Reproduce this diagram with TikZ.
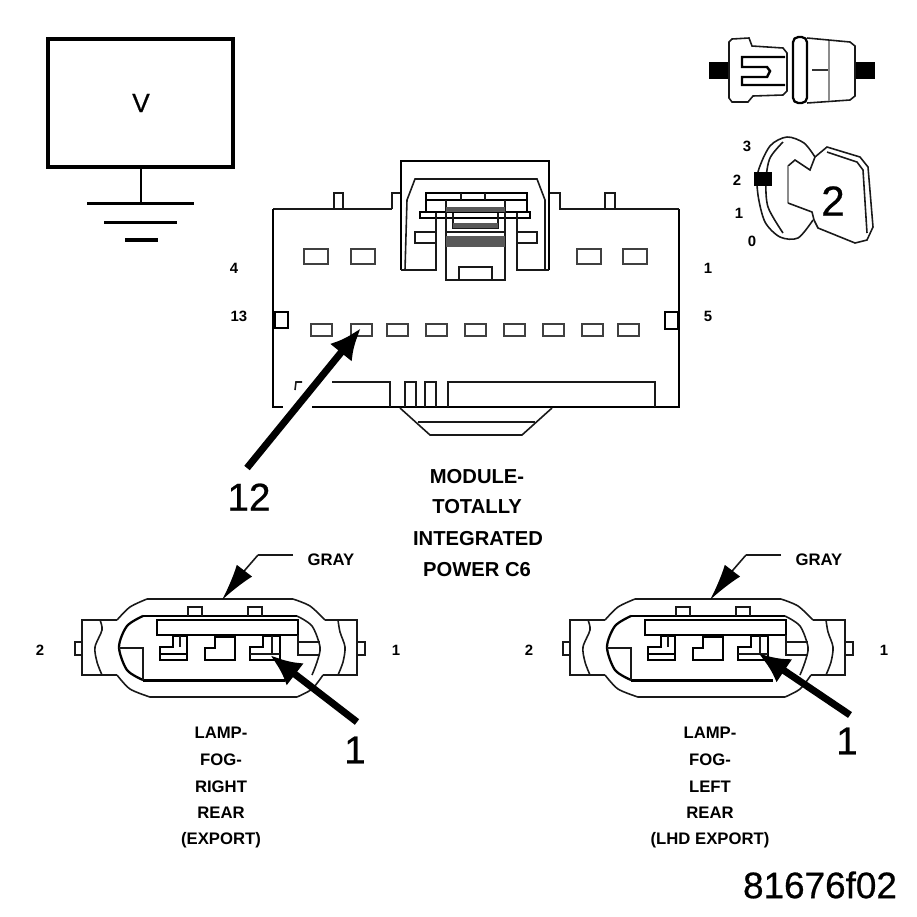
\documentclass[tikz,border=0pt]{standalone}
\usepackage{fontspec}
\setmainfont{Liberation Sans}
\newfontfamily\medfont[FakeBold=0.6]{Liberation Sans}
\usetikzlibrary{arrows.meta}

\tikzset{
    x=0.02cm, y=-0.02cm,
    line/.style={line width=0.9pt, black!90},
    faint/.style={line width=1pt, black!45},
    window/.style={line width=1.2pt, black!75},
    bigarrow/.style={line width=4pt, black, -{Latex[length=18pt,width=16pt]}},
    pin/.style={font=\bfseries\fontsize{8.5}{10}\selectfont, inner sep=0pt},
    caption/.style={font=\bfseries\fontsize{9.5}{11}\selectfont, inner sep=0pt},
    title/.style={font=\bfseries\fontsize{11.5}{13}\selectfont, inner sep=0pt},
    callout/.style={font=\medfont\fontsize{22}{24}\selectfont, inner sep=0pt},
}

\begin{document}
\begin{tikzpicture}
    \useasboundingbox[fill=white] (0,0) rectangle (917,917);

    % voltmeter and ground
    \draw[line width=2pt] (48,39) rectangle (233,167);
    \node[inner sep=0pt, font=\medfont\fontsize{15}{17}\selectfont] (meterV) at (141,103) {V};
    \draw[line width=1.5pt] (141,167) -- (141,203);
    \draw[line width=1.7pt] (87,203) -- (194,203);
    \draw[line width=1.7pt] (104,222) -- (177,222);
    \draw[line width=2pt] (125,240) -- (158,240);

    % fuse
    \fill (709,62) rectangle (729,79);
    \fill (856,62) rectangle (875,79);
    \draw[line] (729,42) -- (732,39) -- (749,38) -- (752,46) -- (783,48) -- (787,53) -- (787,91) -- (783,95) -- (753,96) -- (748,102) -- (732,102) -- (729,98) -- cycle;
    \draw[line width=1.4pt] (785,57) -- (742,57) -- (742,67) -- (767,67) -- (770,71) -- (767,77) -- (742,77) -- (742,85) -- (785,85);
    \draw[line width=1.3pt, rounded corners=3pt] (793,37) rectangle (807,103);
    \draw[line] (807,38) -- (850,42) -- (855,46) -- (855,96) -- (850,100) -- (807,103);
    \draw[faint] (829,41) -- (829,101);
    \draw[line width=1.3pt, black!80] (812,70) -- (828,70);

    % ignition key
    \node[pin] (key3) at (747,146) {3};
    \node[pin] (key2) at (737,180) {2};
    \node[pin] (key1) at (739,213) {1};
    \node[pin] (key0) at (752,241) {0};
    \draw[line] plot[smooth] coordinates {(815,157) (804,143) (787,137) (770,146) (758,172) (758,195) (765,222) (780,237) (798,238) (813,220)};
    \draw[line] plot[smooth] coordinates {(783,142) (770,158) (766,180) (768,207) (783,233)};
    \draw[line] (815,157) -- (810,170) -- (795,160) -- (788,166);
    \draw[faint] (788,166) -- (788,203);
    \draw[line] (788,203) -- (812,212) -- (814,220);
    \draw[line] (815,157) -- (827,147) -- (860,157) -- (868,167) -- (873,227) -- (867,240) -- (855,243) -- (818,228) -- (814,220);
    \draw[line] (827,152) -- (857,162) -- (863,170) -- (867,233);
    \fill (754,172) rectangle (772,186);
    \node[inner sep=0pt, font=\medfont\fontsize{24}{26}\selectfont] (key) at (833,201) {2};

    % module connector
    \draw[line] (392,209) -- (273,209);
    \draw[line width=1.2pt] (273,209) -- (273,407) -- (283,407);
    \draw[line width=1.2pt] (312,407) -- (679,407) -- (679,209);
    \draw[line] (679,209) -- (560,209) -- (560,193) -- (549,193);
    \draw[line] (392,209) -- (392,193) -- (401,193);
    \draw[line width=1.2pt] (401,270) -- (401,161) -- (549,161) -- (549,270);
    \draw[line] (334,209) -- (334,193) -- (343,193) -- (343,209);
    \draw[line] (605,209) -- (605,193) -- (615,193) -- (615,209);
    \draw[line] (405,270) -- (407,200) -- (415,179) -- (537,179) -- (545,200) -- (545,270);

    \draw[line width=1.1pt] (426,213) -- (426,193) -- (527,193) -- (527,213);
    \draw[line width=1.1pt] (426,200) -- (527,200);
    \draw[line] (461,193) -- (461,200);
    \draw[line] (485,193) -- (485,200);
    \draw[line width=1.1pt] (420,212) rectangle (530,218);
    \draw[line] (446,200) -- (446,280) -- (505,280) -- (505,200);
    \draw[line] (459,280) -- (459,267) -- (492,267) -- (492,280);
    \fill[black!65] (446,207) rectangle (505,212);
    \draw[line] (453,213) -- (453,228) -- (498,228) -- (498,213);
    \fill[black!65] (453,223) rectangle (498,228);
    \draw[line] (446,232) -- (505,232);
    \fill[black!65] (446,236) rectangle (505,247);
    \draw[line] (436,213) -- (436,270) -- (401,270);
    \draw[line] (517,213) -- (517,270) -- (549,270);
    \draw[line] (415,232) rectangle (436,243);
    \draw[line] (517,232) -- (537,232) -- (537,243) -- (517,243);

    \foreach \x in {304,351,577,623}
        \draw[window] (\x,249) rectangle +(24,15);
    \foreach \x in {321,361,397,436,475,514,553,592,628}
        \draw[window] (\x-10,324) rectangle +(21,12);

    \draw[line width=1.2pt] (275,312) rectangle (288,328);
    \draw[line width=1.2pt] (665,312) rectangle (678,329);

    \draw[line] (332,382) -- (390,382) -- (390,407);
    \draw[line] (405,407) -- (405,382) -- (416,382) -- (416,407);
    \draw[line] (425,407) -- (425,382) -- (436,382) -- (436,407);
    \draw[line] (448,407) -- (448,382) -- (655,382) -- (655,407);
    \draw[line] (295,390) -- (296,382) -- (302,382);

    \draw[line] (400,408) -- (430,435) -- (522,435) -- (552,408);
    \draw[line] (418,422) -- (535,422);

    \node[pin] (pin4) at (234,268) {4};
    \node[pin] (pin1) at (708,268) {1};
    \node[pin] (pin13) at (239,316) {13};
    \node[pin] (pin5) at (708,316) {5};

    \node[title] (mod1) at (477,477) {MODULE-};
    \node[title] (mod2) at (477,507) {TOTALLY};
    \node[title] (mod3) at (478,539) {INTEGRATED};
    \node[title] (mod4) at (477,570) {POWER C6};

    \coordinate (tail12) at (247,468);
    \coordinate (cavity12) at (361,328);
    \draw[bigarrow] (tail12) -- (cavity12);
    \node[callout] (num12) at (249,497) {12};

    % the two lamp connectors
    \foreach \dx/\side in {0/R,488/L} {
        \begin{scope}[shift={(\dx,0)}]
            \draw[line] plot[smooth] coordinates {(117,620) (130,607) (147,599)};
            \draw[line] (147,599) -- (293,599);
            \draw[line] plot[smooth] coordinates {(293,599) (310,606) (325,620)};
            \draw[line] plot[smooth] coordinates {(117,675) (130,689) (150,697)};
            \draw[line] (150,697) -- (297,697);
            \draw[line] plot[smooth] coordinates {(297,697) (312,689) (323,675)};
            \draw[line] (117,620) -- (82,620) -- (82,675) -- (117,675);
            \draw[line] (325,620) -- (357,620) -- (357,675) -- (323,675);
            \draw[line] (82,642) -- (75,642) -- (75,655) -- (82,655);
            \draw[line] (357,642) -- (365,642) -- (365,655) -- (357,655);
            \draw[line] plot[smooth] coordinates {(100,620) (102,630) (95,647) (97,662) (102,675)};
            \draw[line] plot[smooth] coordinates {(338,620) (340,632) (345,647) (343,662) (338,675)};

            \draw[line width=1.3pt] plot[smooth] coordinates {(143,680) (127,670) (119,647) (127,626) (143,616)};
            \draw[line width=1.6pt] (143,616) -- (297,616);
            \draw[line] plot[smooth] coordinates {(297,616) (312,626) (320,647) (317,662) (312,675)};
            \draw[line width=1.7pt] (143,680) -- (285,680);
            \draw[line] (119,648) -- (143,648) -- (143,680);
            \draw[line] (188,616) -- (188,607) -- (202,607) -- (202,616);
            \draw[line] (248,616) -- (248,607) -- (262,607) -- (262,616);

            \draw[line width=1.2pt] (157,620) rectangle (298,635);
            \draw[line width=1.2pt] (160,647) -- (173,647) -- (173,636) -- (187,636) -- (187,660) -- (160,660) -- cycle;
            \draw[line width=1.2pt] (160,654) -- (187,654);
            \draw[line] (180,636) -- (180,647);
            \draw[line width=1.1pt] (205,648) -- (215,648) -- (215,637) -- (235,637) -- (235,660) -- (205,660) -- cycle;
            \draw[line width=1.2pt] (250,647) -- (263,647) -- (263,636) -- (280,636) -- (280,660) -- (250,660) -- cycle;
            \draw[line] (250,654) -- (280,654);
            \draw[line] (272,636) -- (272,654);
            \draw[line] (298,642) -- (320,642);
            \draw[line] (298,635) -- (298,655) -- (320,655);

            \node[caption] (gray\side) at (331,560) {GRAY};
            \coordinate (knee\side) at (258,555);
            \coordinate (shell\side) at (222,600);
            \draw[line] (293,555) -- (knee\side);
            \draw[line] (knee\side) -- (245,570);
            \draw[line width=1pt, -{Latex[length=21pt,width=11pt]}] (245,570) -- (shell\side);
        \end{scope}
    }

    \node[pin] (lampRtwo) at (40,650) {2};
    \node[pin] (lampRone) at (396,650) {1};
    \node[pin] (lampLtwo) at (529,650) {2};
    \node[pin] (lampLone) at (884,650) {1};

    \coordinate (tailR) at (357,722);
    \coordinate (cavityR) at (270,655);
    \draw[bigarrow] (tailR) -- (cavityR);
    \node[callout] (numR) at (355,750) {1};
    \coordinate (tailL) at (850,715);
    \coordinate (cavityL) at (758,653);
    \draw[bigarrow] (tailL) -- (cavityL);
    \node[callout] (numL) at (847,741) {1};

    \node[caption] (capR1) at (221,733) {LAMP-};
    \node[caption] (capR2) at (221,760) {FOG-};
    \node[caption] (capR3) at (221,787) {RIGHT};
    \node[caption] (capR4) at (221,813) {REAR};
    \node[caption] (capR5) at (221,840) {(EXPORT)};

    \node[caption] (capL1) at (710,733) {LAMP-};
    \node[caption] (capL2) at (710,760) {FOG-};
    \node[caption] (capL3) at (710,787) {LEFT};
    \node[caption] (capL4) at (710,813) {REAR};
    \node[caption] (capL5) at (710,840) {(LHD EXPORT)};

    \node[inner sep=0pt, font=\medfont\fontsize{21}{23}\selectfont] (figcode) at (820,885) {81676f02};
\end{tikzpicture}
\end{document}
